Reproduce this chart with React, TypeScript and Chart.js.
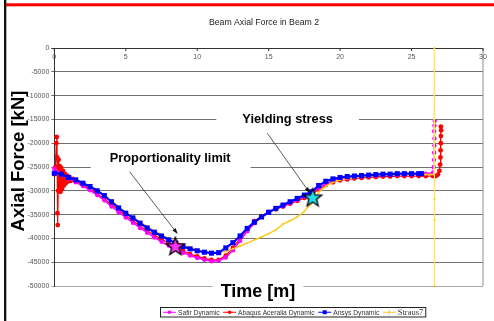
import React, { useEffect, useRef } from "react";
import { Chart, registerables } from "chart.js";
Chart.register(...registerables);

// ---------- data ----------
const TITLE = "Beam Axial Force in Beam 2";
const Y_TITLE = "Axial Force [kN]";
const X_TITLE = "Time [m]";
const X_TICKS = [0, 5, 10, 15, 20, 25, 30];
const Y_MIN = -50000;
const Y_MAX = 0;
const Y_STEP = 5000;
const SERIES_NAMES = ["Safir Dynamic", "Abaqus Aceralia Dynamic", "Ansys Dynamic", "Straus7"];

const SAFIR_T = [0, 0.25, 0.5, 1, 1.5, 2, 2.5, 3, 3.5, 4, 4.5, 5, 5.5, 6, 6.5, 7, 7.5, 8, 8.5, 9, 9.5, 10, 10.5, 11, 11.5, 12, 12.5, 13, 13.5, 14, 14.5, 15, 15.5, 16, 16.5, 17, 17.5, 18, 18.5, 19, 19.5, 20, 20.5, 21, 21.5, 22, 22.5, 23, 23.5, 24, 24.5, 25, 25.5, 26, 26.5, 26.55, 26.57, 26.58, 26.6, 26.6, 26.58, 26.6, 26.62];
const SAFIR_V = [-25300, -26200, -26700, -27400, -28200, -29000, -29900, -30900, -32000, -33300, -34500, -35600, -36700, -37800, -38800, -39800, -40700, -41500, -42300, -43000, -43600, -44100, -44500, -44800, -44700, -44000, -42500, -40500, -38500, -36800, -35500, -34500, -33800, -33200, -32500, -31900, -31200, -30500, -29400, -28500, -27900, -27500, -27300, -27100, -27000, -26900, -26800, -26700, -26700, -26600, -26600, -26600, -26500, -26400, -26200, -25000, -23500, -22000, -20500, -19000, -17500, -16300, -15300];

const ABAQUS_T = [0, 0.08, 0.14, 0.17, 0.2, 0.22, 0.24, 0.27, 0.3, 0.34, 0.38, 0.43, 0.48, 0.54, 0.6, 0.66, 0.73, 0.8, 0.88, 0.96, 1.05, 1.15, 1.3, 1.5, 2, 2.5, 3, 3.5, 4, 4.5, 5, 5.5, 6, 6.5, 7, 7.5, 8, 8.5, 9, 9.5, 10, 10.5, 11, 11.5, 12, 12.5, 13, 13.5, 14, 14.5, 15, 15.5, 16, 16.5, 17, 17.5, 18, 18.5, 19, 19.5, 20, 20.5, 21, 21.5, 22, 22.5, 23, 23.5, 24, 24.5, 25, 25.5, 26, 26.5, 26.7, 26.85, 26.95, 27.0, 27.02, 27.03, 27.05, 27.05, 27.07, 27.05];
const ABAQUS_V = [-26500, -25000, -20000, -18700, -23000, -34700, -37200, -30000, -23500, -29800, -24800, -30200, -25200, -29600, -25800, -28900, -26400, -28400, -26800, -28000, -27100, -27900, -27500, -28000, -28800, -29600, -30600, -31700, -32900, -34100, -35200, -36300, -37400, -38400, -39300, -40200, -41000, -41800, -42600, -43300, -43800, -44200, -44500, -44500, -43600, -42000, -40000, -38000, -36400, -35300, -34500, -33900, -33300, -32700, -32100, -31500, -30800, -29700, -28800, -28200, -27800, -27600, -27400, -27300, -27200, -27100, -27000, -27000, -26900, -26900, -26900, -26900, -26900, -26900, -26900, -26600, -25800, -24500, -23000, -21500, -20000, -18500, -17300, -16500];

const ANSYS_T = [0, 0.5, 1, 1.5, 2, 2.5, 3, 3.5, 4, 4.5, 5, 5.5, 6, 6.5, 7, 7.5, 8, 8.5, 9, 9.5, 10, 10.5, 11, 11.5, 12, 12.5, 13, 13.5, 14, 14.5, 15, 15.5, 16, 16.5, 17, 17.5, 18, 18.5, 19, 19.5, 20, 20.5, 21, 21.5, 22, 22.5, 23, 23.5, 24, 24.5, 25, 25.5, 25.7];
const ANSYS_V = [-26300, -26500, -27200, -27700, -28400, -29100, -30000, -31000, -32300, -33600, -34700, -35700, -36800, -37800, -38700, -39500, -40300, -41000, -41700, -42200, -42600, -42900, -43100, -43000, -42000, -40900, -39500, -37900, -36600, -35500, -34500, -33700, -33000, -32300, -31600, -30900, -30200, -28900, -28000, -27500, -27200, -27000, -26900, -26800, -26700, -26600, -26500, -26500, -26400, -26400, -26400, -26400, -26400];

const STRAUS_T = [0, 1, 2, 3, 4, 5, 6, 7, 8, 9, 10, 10.5, 11, 11.5, 12, 12.5, 13, 13.5, 14, 14.5, 15, 15.5, 16, 16.5, 17, 17.5, 18, 18.3, 18.6, 19, 19.5, 20, 21, 22, 23, 24, 25, 26, 26.55, 26.6, 26.6, 26.6, 26.6];
const STRAUS_V = [-26300, -27100, -28300, -29900, -32100, -34500, -36600, -38400, -40000, -41400, -42400, -42800, -43000, -43000, -42700, -42200, -41600, -41000, -40300, -39700, -39000, -38200, -37000, -36300, -35500, -34300, -32600, -31200, -30000, -29000, -28200, -27700, -27200, -26900, -26700, -26600, -26600, -26600, -26600, 0, -31800, -36100, -50000];

const STAR_T = [8.47, 18.08];
const STAR_V = [-41600, -31370];

const ANNOTATIONS = [
  { text: "Proportionality limit", t: 3.88, v: -23890, padL: 19, padR: 20, fromT: 5.27, fromV: -25990, toT: 8.55, toV: -38760 },
  { text: "Yielding stress", t: 13.16, v: -15820, padL: 26, padR: 26, fromT: 14.91, fromV: -17920, toT: 17.81, toV: -30150 },
];

const SANS = "'Liberation Sans', Arial, sans-serif";

function makeStar(fill: string): HTMLCanvasElement {
  const c = document.createElement("canvas");
  c.width = 22;
  c.height = 22;
  const g = c.getContext("2d")!;
  g.beginPath();
  for (let i = 0; i < 10; i++) {
    const r = i % 2 === 0 ? 9.5 : 4;
    const a = -Math.PI / 2 + (i * Math.PI) / 5;
    const px = 11 + r * Math.cos(a);
    const py = 11.8 + r * Math.sin(a);
    if (i === 0) g.moveTo(px, py);
    else g.lineTo(px, py);
  }
  g.closePath();
  g.fillStyle = fill;
  g.fill();
  g.lineWidth = 1.3;
  g.strokeStyle = "#000";
  g.stroke();
  return c;
}

const pts = (t: number[], v: number[]) => t.map((x, i) => ({ x, y: v[i] }));

const COLORS = ["#FF00FF", "#FF0000", "#0000FF", "#FFC820"];

const decor = {
  id: "decor",
  beforeDatasetsDraw(chart: any) {
    const { ctx } = chart;
    const xs = chart.scales.x;
    const ys = chart.scales.y;
    ctx.save();
    ctx.font = `bold 12.8px ${SANS}`;
    for (const a of ANNOTATIONS) {
      const x = xs.getPixelForValue(a.t);
      const y = ys.getPixelForValue(a.v);
      const w = ctx.measureText(a.text).width;
      ctx.fillStyle = "#fff";
      ctx.fillRect(x - a.padL, y - 16.5, w + a.padL + a.padR, 26);
      const x1 = xs.getPixelForValue(a.fromT);
      const y1 = ys.getPixelForValue(a.fromV);
      const x2 = xs.getPixelForValue(a.toT);
      const y2 = ys.getPixelForValue(a.toV);
      ctx.strokeStyle = "#333";
      ctx.lineWidth = 0.8;
      ctx.beginPath();
      ctx.moveTo(x1, y1);
      ctx.lineTo(x2, y2);
      ctx.stroke();
      const ang = Math.atan2(y2 - y1, x2 - x1);
      ctx.fillStyle = "#111";
      ctx.beginPath();
      ctx.moveTo(x2 + 2 * Math.cos(ang), y2 + 2 * Math.sin(ang));
      ctx.lineTo(x2 - 4 * Math.cos(ang) + 2 * Math.sin(ang), y2 - 4 * Math.sin(ang) - 2 * Math.cos(ang));
      ctx.lineTo(x2 - 4 * Math.cos(ang) - 2 * Math.sin(ang), y2 - 4 * Math.sin(ang) + 2 * Math.cos(ang));
      ctx.closePath();
      ctx.fill();
    }
    const ca = chart.chartArea;
    ctx.strokeStyle = "#a0a0a0";
    ctx.lineWidth = 1.2;
    ctx.beginPath();
    ctx.moveTo(ca.right, ca.top);
    ctx.lineTo(ca.right, ca.bottom);
    ctx.stroke();
    ctx.strokeStyle = "#333";
    ctx.lineWidth = 1;
    ctx.fillStyle = "#555";
    ctx.font = `7px ${SANS}`;
    ctx.textAlign = "center";
    ctx.textBaseline = "middle";
    for (const v of X_TICKS) {
      const x = xs.getPixelForValue(v);
      ctx.beginPath();
      ctx.moveTo(x, ca.top);
      ctx.lineTo(x, ca.top + 3);
      ctx.stroke();
      ctx.fillText(String(v), x, ca.top + 9.5);
    }
    ctx.restore();
  },
  afterDraw(chart: any) {
    const { ctx } = chart;
    const xs = chart.scales.x;
    const ys = chart.scales.y;
    ctx.save();
    ctx.fillStyle = "#FF0000";
    ctx.fillRect(5, 3.3, 489, 3);
    ctx.fillStyle = "#111";
    ctx.fillRect(4, 0, 2.3, 321);
    ctx.fillStyle = "#222";
    ctx.font = `8.7px ${SANS}`;
    ctx.textAlign = "center";
    ctx.textBaseline = "middle";
    ctx.fillText(TITLE, 264, 22.5);
    ctx.font = `bold 12.8px ${SANS}`;
    ctx.textAlign = "left";
    ctx.textBaseline = "alphabetic";
    ctx.fillStyle = "#000";
    for (const a of ANNOTATIONS) {
      ctx.fillText(a.text, xs.getPixelForValue(a.t), ys.getPixelForValue(a.v));
    }
    ctx.font = `bold 18px ${SANS}`;
    ctx.textAlign = "center";
    const tw = ctx.measureText(X_TITLE).width;
    ctx.fillStyle = "#fff";
    ctx.fillRect(258 - tw / 2 - 8, 281, tw + 16, 19);
    ctx.fillStyle = "#000";
    ctx.fillText(X_TITLE, 258, 297);
    ctx.save();
    ctx.translate(23.5, 161);
    ctx.rotate(-Math.PI / 2);
    ctx.font = `bold 18.5px ${SANS}`;
    ctx.textAlign = "center";
    ctx.fillText(Y_TITLE, 0, 0);
    ctx.restore();
    const lx = 160.5;
    const ly = 307.5;
    const lh = 9.5;
    let x = lx + 2.5;
    const yc = ly + lh / 2;
    for (let i = 0; i < SERIES_NAMES.length; i++) {
      const col = COLORS[i];
      ctx.strokeStyle = col;
      ctx.fillStyle = col;
      ctx.lineWidth = 1;
      ctx.beginPath();
      ctx.moveTo(x, yc);
      ctx.lineTo(x + 13, yc);
      ctx.stroke();
      const mx = x + 6.5;
      if (i === 2) ctx.fillRect(mx - 2, yc - 2, 4, 4);
      else if (i === 3) {
        ctx.beginPath();
        ctx.moveTo(mx, yc - 2.5);
        ctx.lineTo(mx, yc + 2.5);
        ctx.stroke();
      } else {
        ctx.beginPath();
        ctx.arc(mx, yc, 1.8, 0, Math.PI * 2);
        ctx.fill();
      }
      x += 15;
      ctx.fillStyle = "#333";
      ctx.textAlign = "left";
      ctx.textBaseline = "middle";
      ctx.font = i === 3 ? `8.5px 'Liberation Serif', serif` : `6.7px ${SANS}`;
      ctx.fillText(SERIES_NAMES[i], x, yc + 0.5);
      x += ctx.measureText(SERIES_NAMES[i]).width + 3.5;
    }
    ctx.strokeStyle = "#222";
    ctx.lineWidth = 1;
    ctx.strokeRect(lx, ly, x - lx - 1, lh);
    ctx.restore();
  },
};

export default function App() {
  const ref = useRef<HTMLCanvasElement>(null);
  useEffect(() => {
    const canvas = ref.current!;
    const chart = new Chart(canvas, {
      type: "line",
      data: {
        datasets: [
          {
            label: "stars",
            data: pts(STAR_T, STAR_V),
            showLine: false,
            pointStyle: [makeStar("#FF33FF"), makeStar("#22E0F0")] as any,
            pointRadius: 10,
            clip: false as any,
            order: 0,
          },
          {
            label: SERIES_NAMES[2],
            data: pts(ANSYS_T, ANSYS_V),
            borderColor: COLORS[2],
            backgroundColor: COLORS[2],
            borderWidth: 2.2,
            pointStyle: "rect",
            pointRadius: 3.6,
            pointBorderWidth: 0,
            clip: false as any,
            order: 1,
          },
          {
            label: SERIES_NAMES[3],
            data: pts(STRAUS_T, STRAUS_V),
            borderColor: COLORS[3],
            backgroundColor: COLORS[3],
            borderWidth: 1.5,
            segment: {
              borderColor: (c: any) => (c.p0.parsed.x >= 26.5 ? "#FFE27A" : undefined),
              borderWidth: (c: any) => (c.p0.parsed.x >= 26.5 ? 1.1 : undefined),
            },
            pointStyle: "circle",
            pointRadius: 1,
            pointBorderWidth: 0,
            clip: false as any,
            order: 2,
          },
          {
            label: SERIES_NAMES[0],
            data: pts(SAFIR_T, SAFIR_V),
            borderColor: COLORS[0],
            backgroundColor: COLORS[0],
            borderWidth: 1.5,
            pointStyle: "circle",
            pointRadius: 2.2,
            pointBorderWidth: 0,
            clip: false as any,
            order: 3,
          },
          {
            label: SERIES_NAMES[1],
            data: pts(ABAQUS_T, ABAQUS_V),
            borderColor: COLORS[1],
            backgroundColor: COLORS[1],
            borderWidth: 1.3,
            pointStyle: "circle",
            pointRadius: 2.4,
            pointBorderWidth: 0,
            clip: false as any,
            order: 4,
          },
        ],
      },
      options: {
        animation: false,
        responsive: false,
        devicePixelRatio: 1,
        events: [],
        layout: { padding: { left: 0, top: 48, right: 9, bottom: 35 } },
        elements: { line: { tension: 0 } },
        plugins: {
          legend: { display: false },
          title: { display: false },
          tooltip: { enabled: false },
        },
        scales: {
          x: { type: "linear", min: 0, max: 30, display: false },
          y: {
            type: "linear",
            min: Y_MIN,
            max: Y_MAX,
            afterFit: (s: any) => {
              s.width = 54.3;
            },
            ticks: {
              stepSize: Y_STEP,
              autoSkip: false,
              callback: (v: any) => String(v),
              font: { family: SANS, size: 7 },
              color: "#555",
              padding: 2,
            },
            grid: {
              color: (c: any) =>
                c.tick && c.tick.value === 0 ? "#333" : c.tick && c.tick.value === Y_MIN ? "#aaaaaa" : "#707070",
              lineWidth: 1,
              tickLength: 3,
            },
            border: { color: "#333", width: 1 },
          },
        },
      },
      plugins: [decor],
    } as any);
    return () => chart.destroy();
  }, []);
  return (
    <div style={{ position: "absolute", left: 0, top: 0, width: 494, height: 321, background: "#fff" }}>
      <canvas ref={ref} width={494} height={321} style={{ width: 494, height: 321, display: "block" }} />
    </div>
  );
}
